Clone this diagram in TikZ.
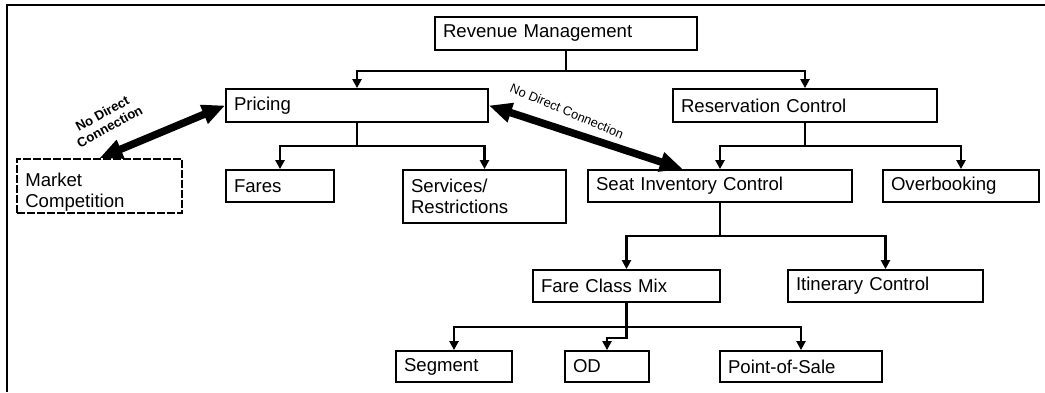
\documentclass[tikz,border=0pt]{standalone}
\usepackage{fontspec}
\setmainfont{Liberation Sans}
\usetikzlibrary{arrows.meta,calc}
\begin{document}
\begin{tikzpicture}[x=1pt,y=-1pt,
  boxfont/.style={font=\fontsize{18.6}{20.5}\selectfont},
  box/.style={draw, line width=1.8pt, inner xsep=8pt, inner ysep=0pt,
    align=left, anchor=center, boxfont},
  dashbox/.style={box, dash pattern=on 8pt off 2pt},
  conn/.style={line width=2.8pt, -{Triangle[length=9pt,width=9pt]}},
  bigarrow/.style={line width=7.5pt,
    {Triangle[length=23pt,width=19pt]}-{Triangle[length=23pt,width=19pt]}},
  note/.style={font=\fontsize{12.8}{14}\selectfont, inner sep=0pt},
  frameline/.style={line width=2pt}]
\useasboundingbox (0,0) rectangle (1045,392);

% outer frame (top and left edges)
\coordinate (ftr) at (1045,5);
\coordinate (ftl) at (7,5);
\coordinate (fbl) at (7,392);
\draw[frameline] (ftr) -- (ftl) -- (fbl);

% boxes
\node[box, text width=246pt, minimum height=33pt] (rm) at (566,33.5) {Revenue Management};
\node[box, text width=246pt, minimum height=33pt] (pricing) at (357,105.5) {Pricing};
\node[box, text width=248pt, minimum height=33pt] (res) at (805,105.5) {Reservation Control};
\node[dashbox, text width=149pt, minimum height=54pt] (mc) at (99.5,186) {};
\node[boxfont, align=left, anchor=north west, inner sep=0pt] (mctext) at ($(mc.north west)+(9,15)$) {Market\\Competition};
\node[box, text width=92pt, minimum height=32pt] (fares) at (280,186) {Fares};
\node[box, text width=147pt, minimum height=53pt] (serv) at (484.5,196.5) {Services/\\Restrictions};
\node[box, text width=248pt, minimum height=32pt] (sic) at (720,186) {Seat Inventory Control};
\node[box, text width=140pt, minimum height=32pt] (ob) at (961,186) {Overbooking};
\node[box, text width=171pt, minimum height=32pt] (fcm) at (626.5,286) {Fare Class Mix};
\node[box, text width=179pt, minimum height=32pt] (ic) at (885.5,286) {Itinerary Control};
\node[box, text width=100pt, minimum height=31pt] (seg) at (454,366.5) {Segment};
\node[box, text width=68pt, minimum height=31pt] (od) at (607,366.5) {OD};
\node[box, text width=146pt, minimum height=31pt] (pos) at (801,366.5) {Point-of-Sale};

% tree connectors
\draw[conn] (rm.south) -- ++(0,20) -| (pricing.north);
\draw[conn] (rm.south) -- ++(0,20) -| (res.north);
\draw[conn] (pricing.south) -- ++(0,23) -| (fares.north);
\draw[conn] (pricing.south) -- ++(0,23) -| (serv.north);
\draw[conn] (res.south) -- ++(0,23) -| (sic.north);
\draw[conn] (res.south) -- ++(0,23) -| (ob.north);
\draw[conn] (sic.south) -- ++(0,33) -| (fcm.north);
\draw[conn] (sic.south) -- ++(0,33) -| (ic.north);
\draw[conn] (fcm.south) -- ++(0,24) -| (seg.north);
\draw[conn] (fcm.south) -- ++(0,24) -| (pos.north);
\draw[conn] (fcm.south) -- ++(0,35) -| (od.north);

% "no direct connection" links
\draw[bigarrow] (mc.north) -- (pricing.west);
\draw[bigarrow] (pricing.east) -- ($(sic.north west)!0.36!(sic.north east)$);
\node[note, font=\bfseries\fontsize{13.2}{15}\selectfont, align=center, rotate=29] (nd1) at (106,120) {No Direct\\Connection};
\node[note, rotate=-23] (nd2) at (567,111) {No Direct Connection};
\end{tikzpicture}
\end{document}
